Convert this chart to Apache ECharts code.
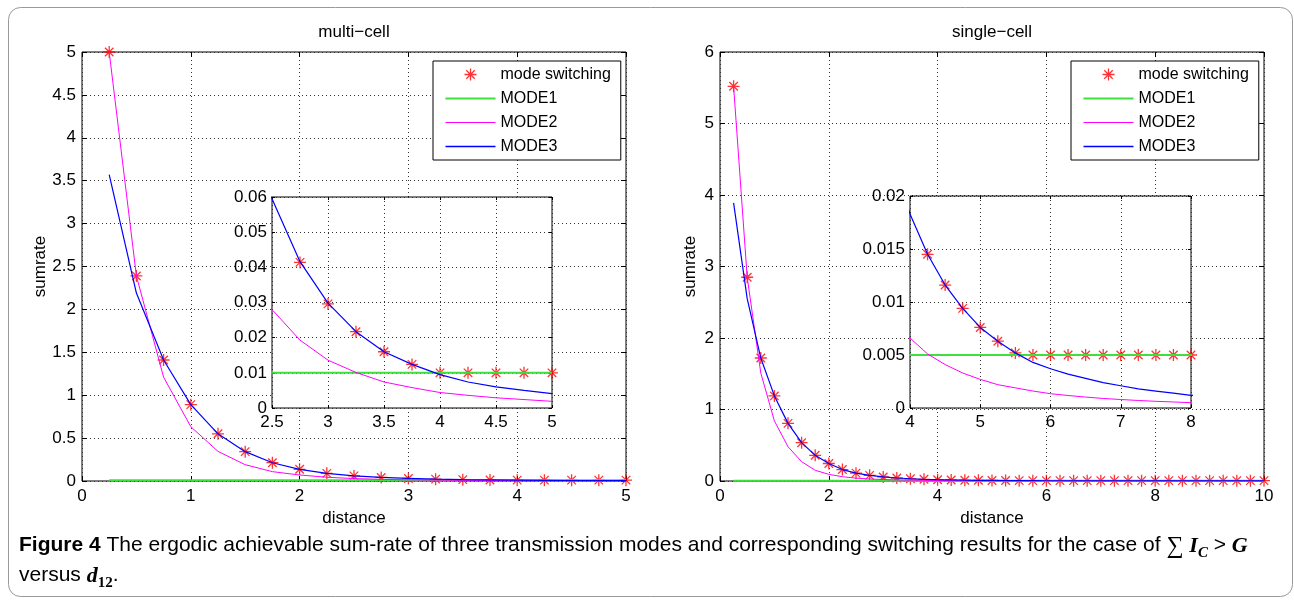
<!DOCTYPE html>
<html>
<head>
<meta charset="utf-8">
<script src="https://cdn.jsdelivr.net/npm/echarts@6/dist/echarts.min.js"></script>
<style>
html,body{margin:0;padding:0;background:#fff;}
#chart{width:1294px;height:603px;}
</style>
</head>
<body>
<div id="chart"></div>
<script>
// ---------------- data ----------------
const leftDistance = [0.25,0.5,0.75,1,1.25,1.5,1.75,2,2.25,2.5,2.75,3,3.25,3.5,3.75,4,4.25,4.5,4.75,5];
const leftModeSwitching = [5.0,2.39,1.41,0.89,0.55,0.342,0.213,0.136,0.089,0.0595,0.0414,0.0296,0.0217,0.016,0.0124,0.01,0.01,0.01,0.01,0.01];
const leftMode1 = [0.01,0.01,0.01,0.01,0.01,0.01,0.01,0.01,0.01,0.01,0.01,0.01,0.01,0.01,0.01,0.01,0.01,0.01,0.01,0.01];
const leftMode2 = [5.0,2.39,1.21,0.633,0.345,0.19,0.109,0.07,0.044,0.028,0.0193,0.0136,0.0101,0.0074,0.0058,0.0044,0.0036,0.0029,0.0024,0.0019];
const leftMode3 = [3.57,2.19,1.41,0.89,0.55,0.342,0.213,0.136,0.089,0.0595,0.0416,0.0298,0.0217,0.016,0.0124,0.0095,0.0074,0.006,0.005,0.0041];

const rightDistance = [0.25,0.5,0.75,1,1.25,1.5,1.75,2,2.25,2.5,2.75,3,3.25,3.5,3.75,4,4.25,4.5,4.75,5,
                       5.25,5.5,5.75,6,6.25,6.5,6.75,7,7.25,7.5,7.75,8,8.25,8.5,8.75,9,9.25,9.5,9.75,10];
const rightModeSwitching = [5.52,2.85,1.72,1.19,0.806,0.536,0.359,0.245,0.16,0.11,0.079,0.057,0.042,0.0312,0.0237,0.0183,0.0145,0.0116,0.0094,0.0076,
                            0.0063,0.0052,0.005,0.005,0.005,0.005,0.005,0.005,0.005,0.005,0.005,0.005,0.005,0.005,0.005,0.005,0.005,0.005,0.005,0.005];
const rightMode1 = [0.005,0.005,0.005,0.005,0.005,0.005,0.005,0.005,0.005,0.005,0.005,0.005,0.005,0.005,0.005,0.005,0.005,0.005,0.005,0.005,
                    0.005,0.005,0.005,0.005,0.005,0.005,0.005,0.005,0.005,0.005,0.005,0.005,0.005,0.005,0.005,0.005,0.005,0.005,0.005,0.005];
const rightMode2 = [5.52,2.85,1.51,0.84,0.48,0.27,0.15,0.093,0.06,0.04,0.028,0.0205,0.0152,0.0114,0.0086,0.0066,0.0051,0.0041,0.0033,0.0027,
                    0.0022,0.0019,0.0016,0.00135,0.00118,0.00103,0.0009,0.0008,0.00071,0.00063,0.00057,0.0005,0.00045,0.0004,0.00036,0.00033,0.0003,0.00027,0.00025,0.00023];
const rightMode3 = [3.89,2.55,1.72,1.19,0.806,0.536,0.359,0.245,0.16,0.11,0.079,0.057,0.042,0.0312,0.0237,0.0183,0.0145,0.0116,0.0094,0.0076,
                    0.0063,0.0052,0.0043,0.0037,0.0032,0.0028,0.0024,0.0021,0.0018,0.0016,0.0014,0.0012,0.00106,0.00094,0.00084,0.00075,0.00067,0.0006,0.00054,0.00049];

// tick values
const leftXTicks = [0,1,2,3,4,5];
const leftYTicks = [0,0.5,1,1.5,2,2.5,3,3.5,4,4.5,5];
const rightXTicks = [0,2,4,6,8,10];
const rightYTicks = [0,1,2,3,4,5,6];
const leftInsetXTicks = [2.5,3,3.5,4,4.5,5];
const leftInsetYTicks = [0,0.01,0.02,0.03,0.04,0.05,0.06];
const rightInsetXTicks = [4,5,6,7,8];
const rightInsetYTicks = [0,0.005,0.01,0.015,0.02];

const seriesNames = ['mode switching','MODE1','MODE2','MODE3'];
const panelTitles = ['multi\u2212cell','single\u2212cell'];
const xAxisTitle = 'distance';
const yAxisTitle = 'sumrate';
const captionLine1 = '{b|Figure 4}{t| The ergodic achievable sum-rate of three transmission modes and corresponding switching results for the case of }{m|\u2211}{t| }{i|I}{s|C}{t| > }{i|G}';
const captionLine2 = '{t|versus }{i|d}{u|12}{t|.}';

// ---------------- styling ----------------
const FONT = "'Liberation Sans', Arial, Helvetica, sans-serif";
const SERIF = "'Liberation Serif', 'DejaVu Serif', serif";
const COL = {stars:'#ff0000', mode1:'#3ee03e', mode2:'#ff00ff', mode3:'#0000ff'};
const starPath = 'path://M5,0L5,10M0,5L10,5M1.46,1.46L8.54,8.54M1.46,8.54L8.54,1.46';
const legendStarIcon = 'path://M0,0M50,14M25,1L25,13M19,7L31,7M20.8,2.8L29.2,11.2M20.8,11.2L29.2,2.8';
const legendLineIcon = 'path://M0,0M50,14M0,7L50,7';

function pairs(xs, ys, keep) {
  return xs.map((x, i) => [x, ys[i]]).filter(p => !keep || keep(p[0]));
}
function range(t) { return {min: t[0], max: t[t.length - 1], interval: t[1] - t[0]}; }
const fmt = v => String(Math.round(v * 100000) / 100000);

function axesFor(grid, xt, yt, o) {
  const label = {fontSize: 17, color: '#000', fontFamily: FONT};
  const split = {show: true, lineStyle: {color: '#333', type: [1, 3], width: 1}};
  const tick = {show: true, inside: true, length: o.tick, lineStyle: {color: '#000', width: 1}};
  const xr = range(xt), yr = range(yt);
  const xb = Object.assign({type: 'value', gridIndex: grid, position: 'bottom', z: o.z,
    axisLine: {show: false, onZero: false}, axisTick: tick,
    axisLabel: Object.assign({}, label, {margin: o.xMargin, formatter: fmt}), splitLine: split}, xr);
  const xtp = Object.assign({type: 'value', gridIndex: grid, position: 'top', z: o.z,
    axisLine: {show: false, onZero: false}, axisTick: tick, axisLabel: {show: false}, splitLine: {show: false}}, xr);
  const yl = Object.assign({type: 'value', gridIndex: grid, position: 'left', z: o.z,
    axisLine: {show: false, onZero: false}, axisTick: tick,
    axisLabel: Object.assign({}, label, {margin: o.yMargin, formatter: fmt}), splitLine: split}, yr);
  const yrt = Object.assign({type: 'value', gridIndex: grid, position: 'right', z: o.z,
    axisLine: {show: false, onZero: false}, axisTick: tick, axisLabel: {show: false}, splitLine: {show: false}}, yr);
  if (o.names) {
    Object.assign(xb, {name: xAxisTitle, nameLocation: 'middle', nameGap: o.xNameGap, nameTextStyle: label});
    Object.assign(yl, {name: yAxisTitle, nameLocation: 'middle', nameGap: o.yNameGap, nameTextStyle: label});
  }
  return {x: [xb, xtp], y: [yl, yrt]};
}

function panelSeries(axisIdx, xs, stars, m1, m2, m3, z, keep) {
  const common = {xAxisIndex: axisIdx, yAxisIndex: axisIdx, silent: true};
  return [
    Object.assign({type: 'scatter', name: seriesNames[0], data: pairs(xs, stars, keep), symbol: starPath, symbolSize: 12,
      itemStyle: {color: 'none', borderColor: COL.stars, borderWidth: 1.3}, clip: false, z: z}, common),
    Object.assign({type: 'line', name: seriesNames[1], data: pairs(xs, m1), symbol: 'none',
      lineStyle: {color: COL.mode1, width: 2}, z: z + 1}, common),
    Object.assign({type: 'line', name: seriesNames[2], data: pairs(xs, m2), symbol: 'none',
      lineStyle: {color: COL.mode2, width: 1}, z: z + 1}, common),
    Object.assign({type: 'line', name: seriesNames[3], data: pairs(xs, m3), symbol: 'none',
      lineStyle: {color: COL.mode3, width: 1.2}, z: z + 1}, common)
  ];
}

const A0 = axesFor(0, leftXTicks, leftYTicks, {tick: 5, xMargin: 7, yMargin: 6, z: 0, names: true, xNameGap: 27, yNameGap: 33});
const A1 = axesFor(1, rightXTicks, rightYTicks, {tick: 5, xMargin: 7, yMargin: 6, z: 0, names: true, xNameGap: 27, yNameGap: 21});
const A2 = axesFor(2, leftInsetXTicks, leftInsetYTicks, {tick: 3, xMargin: 6, yMargin: 5, z: 6});
const A3 = axesFor(3, rightInsetXTicks, rightInsetYTicks, {tick: 3, xMargin: 6, yMargin: 5, z: 6});

const xAxes = [].concat(A0.x, A1.x, A2.x, A3.x);
const yAxes = [].concat(A0.y, A1.y, A2.y, A3.y);

const keepIn = t => (x => x > t[0] && x <= t[t.length - 1]);

const series = [].concat(
  panelSeries(0, leftDistance, leftModeSwitching, leftMode1, leftMode2, leftMode3, 2),
  panelSeries(2, rightDistance, rightModeSwitching, rightMode1, rightMode2, rightMode3, 2),
  panelSeries(4, leftDistance, leftModeSwitching, leftMode1, leftMode2, leftMode3, 7, keepIn(leftInsetXTicks)),
  panelSeries(6, rightDistance, rightModeSwitching, rightMode1, rightMode2, rightMode3, 7, keepIn(rightInsetXTicks))
);

const legendData = [
  {name: seriesNames[0], icon: legendStarIcon, itemStyle: {color: 'none', borderColor: COL.stars, borderWidth: 1.3}},
  {name: seriesNames[1], icon: legendLineIcon, itemStyle: {color: 'none', borderColor: COL.mode1, borderWidth: 2}},
  {name: seriesNames[2], icon: legendLineIcon, itemStyle: {color: 'none', borderColor: COL.mode2, borderWidth: 1.2}},
  {name: seriesNames[3], icon: legendLineIcon, itemStyle: {color: 'none', borderColor: COL.mode3, borderWidth: 1.5}}
];
function legendAt(left) {
  return {left: left, top: 61, orient: 'vertical', padding: [4, 10, 4, 10], itemGap: 5,
    itemWidth: 50, itemHeight: 14, backgroundColor: '#fff', borderColor: '#000', borderWidth: 1,
    selectedMode: false, z: 10,
    textStyle: {fontSize: 16, color: '#000', fontFamily: FONT}, data: legendData};
}

const titleStyle = {fontSize: 17, fontWeight: 'normal', color: '#000', fontFamily: FONT};
const capBase = {fontSize: 21, lineHeight: 24, verticalAlign: 'top', fontFamily: FONT, color: '#000'};
const capRich = {
  b: Object.assign({}, capBase, {fontWeight: 'bold'}),
  t: capBase,
  m: Object.assign({}, capBase, {fontFamily: SERIF, fontSize: 24}),
  i: Object.assign({}, capBase, {fontFamily: SERIF, fontStyle: 'italic', fontWeight: 'bold', fontSize: 22}),
  s: {fontSize: 15, lineHeight: 15, verticalAlign: 'top', padding: [11, 0, 0, 0], fontFamily: SERIF, fontStyle: 'italic', fontWeight: 'bold', color: '#000'},
  u: {fontSize: 15, lineHeight: 15, verticalAlign: 'top', padding: [11, 0, 0, 0], fontFamily: SERIF, fontWeight: 'bold', color: '#000'}
};

const option = {
  animation: false,
  backgroundColor: '#fff',
  title: [
    {text: panelTitles[0], left: 354, top: 24, textAlign: 'center', padding: 0, textStyle: titleStyle},
    {text: panelTitles[1], left: 992, top: 24, textAlign: 'center', padding: 0, textStyle: titleStyle}
  ],
  grid: [
    {left: 82, top: 52, width: 544, height: 429, show: true, borderColor: '#000', borderWidth: 1, backgroundColor: 'transparent', outerBoundsMode: 'none', containLabel: false},
    {left: 720, top: 52, width: 544, height: 429, show: true, borderColor: '#000', borderWidth: 1, backgroundColor: 'transparent', outerBoundsMode: 'none', containLabel: false},
    {left: 272, top: 197, width: 280, height: 211, show: true, borderColor: '#000', borderWidth: 1, backgroundColor: '#fff', z: 5, outerBoundsMode: 'none', containLabel: false},
    {left: 910, top: 196, width: 281, height: 212, show: true, borderColor: '#000', borderWidth: 1, backgroundColor: '#fff', z: 5, outerBoundsMode: 'none', containLabel: false}
  ],
  xAxis: xAxes,
  yAxis: yAxes,
  legend: [legendAt(433), legendAt(1071)],
  series: series,
  graphic: [
    {type: 'rect', silent: true, z: 0, shape: {x: 8.5, y: 7.5, width: 1284, height: 589, r: 12},
      style: {fill: 'none', stroke: '#999', lineWidth: 1}},
    {type: 'text', silent: true, left: 19, top: 535, z: 20, style: {text: captionLine1, rich: capRich, fill: '#000'}},
    {type: 'text', silent: true, left: 19, top: 565, z: 20, style: {text: captionLine2, rich: capRich, fill: '#000'}}
  ]
};

const chart = echarts.init(document.getElementById('chart'), null, {renderer: 'canvas', width: 1294, height: 603});
chart.setOption(option);
</script>
</body>
</html>
